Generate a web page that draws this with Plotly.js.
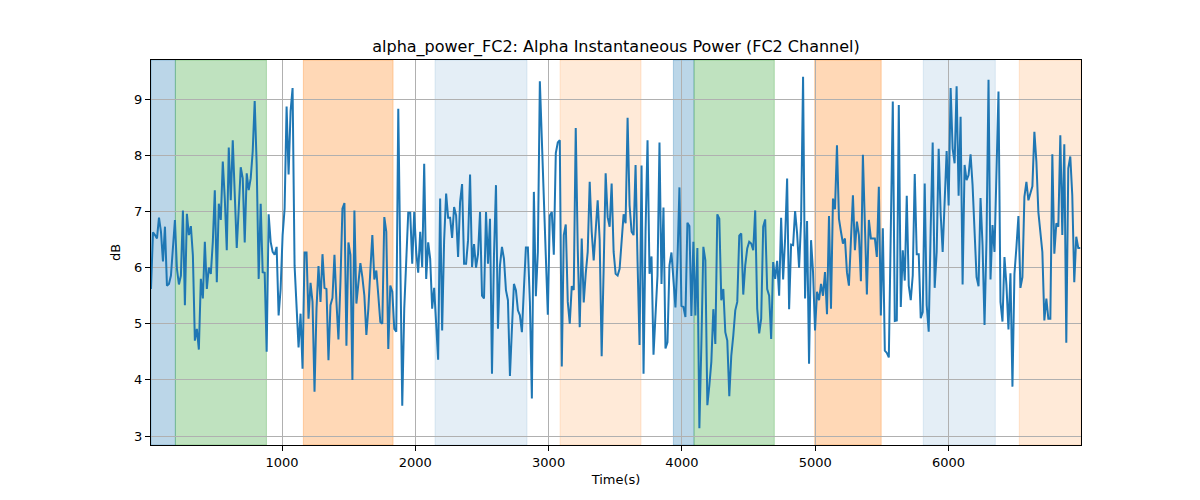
<!DOCTYPE html>
<html>
<head>
<meta charset="utf-8">
<script src="https://cdn.plot.ly/plotly-3.0.1.min.js"></script>
<style>
  body { margin: 0; background: #fff; }
  #plot { width: 1200px; height: 500px; }
</style>
</head>
<body>
<div id="plot"></div>
<script>
// Sampling of the signal (seconds)
const t_start = 17;
const t_step = 14.96;

// Alpha power values in dB
const power_db = [
  5.62, 6.63, 6.58, 6.52, 6.89, 6.64, 6.11, 6.73, 5.68, 5.71, 5.86, 6.40, 6.85, 5.98, 5.70, 5.86, 7.02, 5.33, 6.96, 6.58,
  6.74, 6.22, 4.70, 4.91, 4.54, 5.80, 5.45, 6.46, 5.62, 6.00, 5.89, 6.46, 7.38, 5.74, 7.14, 6.85, 7.89, 7.23,
  6.31, 8.14, 7.20, 8.27, 7.44, 6.35, 7.05, 7.79, 7.59, 6.45, 7.68, 7.38, 7.59, 8.07, 8.97, 7.83, 5.80, 7.14, 5.92,
  5.91, 4.50, 6.95, 6.46, 6.28, 6.23, 6.37, 5.15, 5.62, 6.58, 7.05, 8.87, 7.66, 8.79, 9.20, 6.04, 5.27, 4.58, 5.18, 4.20,
  6.27, 6.27, 5.09, 5.73, 5.39, 3.79, 5.27, 6.03, 5.39, 6.24, 5.64, 5.62, 4.35, 5.33, 5.46, 6.23, 5.39, 4.72, 5.74, 7.05,
  7.15, 4.61, 6.45, 6.23, 4.00, 7.02, 5.36, 5.74, 6.08, 5.83, 5.50, 4.80, 5.27, 5.95, 6.58, 5.79, 5.95, 5.50, 5.03, 5.00,
  6.90, 6.64, 4.55, 5.68, 5.57, 4.91, 4.86, 8.83, 6.46, 3.54, 5.27, 6.10, 6.98, 6.98, 6.07, 6.99, 6.28, 5.91, 6.64, 6.01,
  7.85, 5.80, 6.45, 6.16, 5.27, 5.64, 5.09, 4.36, 7.23, 4.88, 6.49, 7.32, 6.89, 6.89, 6.53, 7.08, 6.93, 6.19, 7.17, 7.49,
  6.07, 6.07, 6.49, 7.66, 6.01, 6.42, 6.00, 6.24, 6.99, 5.50, 5.45, 6.99, 6.07, 6.87, 4.11, 6.22, 7.47, 4.91, 6.04, 6.37,
  6.16, 5.60, 5.42, 4.07, 4.91, 5.71, 5.60, 5.24, 5.15, 4.85, 5.62, 6.36, 6.36, 5.39, 3.67, 7.35, 5.49, 6.28, 9.32, 8.18,
  7.11, 6.04, 5.16, 6.93, 6.99, 6.23, 8.04, 8.23, 8.27, 4.24, 6.58, 6.77, 5.39, 5.00, 5.67, 5.60, 8.49, 6.34, 4.94, 6.52,
  5.38, 5.89, 6.28, 7.53, 6.64, 6.13, 6.64, 7.20, 6.49, 4.42, 5.98, 7.68, 6.90, 6.73, 7.50, 6.28, 5.89, 5.86, 5.98, 6.43,
  6.95, 6.79, 8.67, 7.11, 6.64, 6.58, 7.83, 6.10, 4.62, 7.82, 4.11, 6.64, 8.27, 5.89, 6.20, 4.45, 5.15, 5.86, 8.23, 5.71,
  7.07, 4.56, 4.67, 6.04, 6.27, 5.74, 5.29, 6.10, 7.43, 5.32, 5.30, 5.12, 6.80, 6.74, 5.14, 6.46, 5.15, 6.35, 3.14, 4.64,
  6.37, 6.13, 3.55, 3.90, 4.32, 5.26, 4.64, 6.95, 6.87, 5.42, 5.62, 4.85, 4.70, 3.71, 4.43, 4.79, 5.24, 5.39, 6.57, 6.61,
  5.52, 6.04, 6.34, 6.46, 6.43, 6.31, 7.02, 5.27, 4.83, 5.09, 6.73, 6.86, 5.62, 5.50, 4.73, 6.10, 5.80, 6.12, 5.50, 6.89,
  5.79, 6.52, 7.59, 5.26, 6.41, 6.40, 7.01, 6.61, 6.00, 6.82, 9.40, 5.45, 6.83, 4.29, 6.49, 5.92, 4.88, 5.57, 5.42, 5.71,
  5.50, 5.92, 5.17, 6.92, 5.27, 7.23, 7.04, 8.18, 6.87, 6.64, 6.43, 6.52, 5.92, 5.68, 6.46, 7.29, 6.31, 6.82, 6.58, 5.76,
  8.01, 6.58, 5.52, 6.85, 6.52, 6.52, 6.52, 6.19, 7.44, 5.15, 6.70, 4.52, 4.48, 4.40, 6.64, 8.96, 5.05, 5.06, 8.90, 5.30,
  6.31, 5.77, 7.28, 5.68, 5.42, 5.86, 7.67, 6.24, 6.24, 5.10, 5.21, 7.50, 5.33, 4.86, 6.70, 8.23, 5.64, 6.28, 8.12, 6.96,
  6.28, 7.23, 8.08, 7.11, 9.20, 8.12, 7.86, 9.23, 7.28, 8.69, 5.70, 7.83, 7.56, 7.65, 8.02, 7.47, 6.49, 5.83, 5.67, 7.24,
  6.40, 4.98, 6.52, 9.35, 5.79, 6.76, 6.28, 7.77, 9.14, 5.39, 5.04, 6.19, 5.68, 4.90, 5.90, 3.88, 5.89, 6.37, 6.92, 5.64,
  5.83, 7.26, 7.53, 7.20, 7.35, 7.45, 8.42, 7.89, 6.99, 6.58, 6.28, 5.06, 5.45, 5.09, 5.09, 8.02, 6.25, 6.79, 6.73, 8.36,
  6.58, 8.20, 4.66, 7.77, 7.98, 7.29, 5.74, 6.55, 6.35, 6.35
];

// Shaded phases: start, end (seconds) and colour
const span_start = [17, 200, 1160, 2148, 3086, 3936, 4091, 4996, 5811, 6531];
const span_end   = [200, 883, 1833, 2838, 3693, 4091, 4693, 5495, 6351, 6994];
const span_color = [
  'rgba(31,119,180,0.3)', 'rgba(44,160,44,0.3)', 'rgba(255,127,14,0.3)',
  'rgba(31,119,180,0.12)', 'rgba(255,127,14,0.16)', 'rgba(31,119,180,0.3)',
  'rgba(44,160,44,0.3)', 'rgba(255,127,14,0.3)', 'rgba(31,119,180,0.12)',
  'rgba(255,127,14,0.16)'
];

let time_s = [];
for (let i = 0; i < power_db.length; i++) {
  time_s.push(t_start + i * t_step);
}

let shapes = [];
for (let i = 0; i < span_start.length; i++) {
  shapes.push({
    type: 'rect', xref: 'x', yref: 'paper', layer: 'between',
    x0: span_start[i], x1: span_end[i], y0: 0, y1: 1,
    fillcolor: span_color[i],
    line: {width: 1, color: span_color[i]}
  });
}

var trace = {
  type: 'scatter',
  mode: 'lines',
  x: time_s,
  y: power_db,
  line: {color: '#1f77b4', width: 2},
  hoverinfo: 'skip'
};

var axis_common = {
  showline: true, mirror: true, linecolor: '#000', linewidth: 1,
  ticks: 'outside', ticklen: 5, tickwidth: 1, tickcolor: '#000',
  showgrid: true, gridcolor: '#b0b0b0', gridwidth: 1,
  zeroline: false,
  tickfont: {family: 'DejaVu Sans', size: 13, color: '#000'}
};

var layout = {
  width: 1200, height: 500,
  paper_bgcolor: '#fff', plot_bgcolor: '#fff',
  margin: {l: 151, r: 119, t: 60, b: 55},
  showlegend: false,
  font: {family: 'DejaVu Sans', color: '#000'},
  title: {
    text: 'alpha_power_FC2: Alpha Instantaneous Power (FC2 Channel)',
    font: {family: 'DejaVu Sans', size: 16, color: '#000'},
    x: 0.5, xref: 'paper', y: 0.908, yanchor: 'middle'
  },
  xaxis: Object.assign({}, axis_common, {
    range: [17, 6994],
    tickvals: [1000, 2000, 3000, 4000, 5000, 6000],
    title: {text: 'Time(s)', font: {family: 'DejaVu Sans', size: 13, color: '#000'}, standoff: 6}
  }),
  yaxis: Object.assign({}, axis_common, {
    range: [2.84, 9.70],
    tickvals: [3, 4, 5, 6, 7, 8, 9],
    title: {text: 'dB', font: {family: 'DejaVu Sans', size: 13, color: '#000'}, standoff: 10}
  }),
  shapes: shapes
};

Plotly.newPlot('plot', [trace], layout, {displayModeBar: false, staticPlot: true});
</script>
</body>
</html>
